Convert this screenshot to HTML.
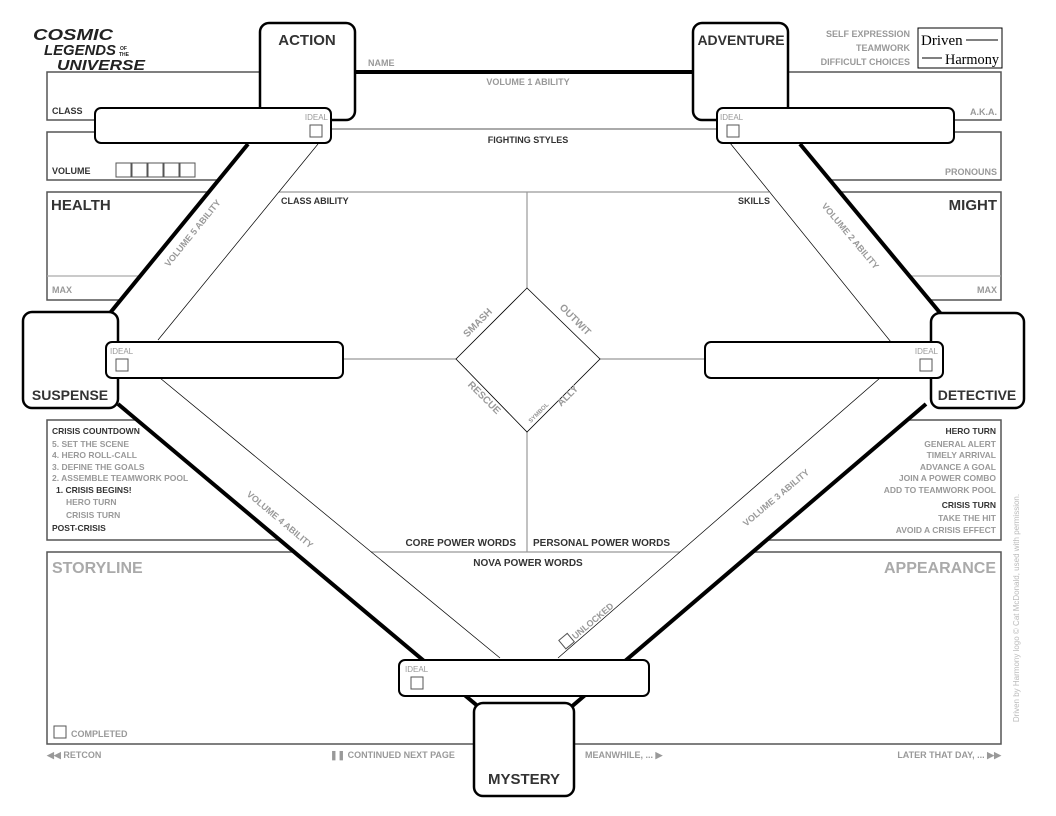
<!DOCTYPE html>
<html><head><meta charset="utf-8"><style>
html,body{margin:0;padding:0;background:#fff;}
svg{display:block;}
text{font-family:"Liberation Sans",sans-serif;font-weight:bold;}
.d{fill:#333;}
.g{fill:#999;}
.box{fill:none;stroke:#555;stroke-width:1.5;}
.node{fill:#fff;stroke:#000;stroke-width:2.5;}
.bar{fill:#fff;stroke:#000;stroke-width:2;}
.cb{fill:#fff;stroke:#555;stroke-width:1;}
.in{stroke:#999;stroke-width:1.2;fill:none;}
</style></head><body>
<svg width="1056" height="816" viewBox="0 0 1056 816" xmlns="http://www.w3.org/2000/svg">
<text x="33" y="40" font-size="16" font-style="italic" fill="#222" textLength="80" lengthAdjust="spacingAndGlyphs">COSMIC</text>
<text x="44" y="55" font-size="15" font-style="italic" fill="#222" textLength="72" lengthAdjust="spacingAndGlyphs">LEGENDS</text>
<text x="120" y="50" font-size="5" fill="#222">OF</text>
<text x="119" y="56" font-size="5" fill="#222">THE</text>
<text x="57" y="70" font-size="15" font-style="italic" fill="#222" textLength="88" lengthAdjust="spacingAndGlyphs">UNIVERSE</text>

<rect x="47" y="72" width="220" height="48" class="box"/>
<path d="M219,180 L47,180 L47,132 L100,132" class="box"/>
<path d="M209,192 L47,192 L47,300 L121,300" class="box"/>
<line x1="47" y1="276" x2="140" y2="276" stroke="#aaa" stroke-width="1.2"/>
<path d="M137,420 L47,420 L47,540 L279,540" class="box"/>
<path d="M294,552 L47,552 L47,744 L474,744" class="box"/>
<rect x="780" y="72" width="221" height="48" class="box"/>
<path d="M830,180 L1001,180 L1001,132 L950,132" class="box"/>
<path d="M840,192 L1001,192 L1001,300 L929,300" class="box"/>
<line x1="909" y1="276" x2="1001" y2="276" stroke="#aaa" stroke-width="1.2"/>
<path d="M907,420 L1001,420 L1001,540 L767,540" class="box"/>
<path d="M753,552 L1001,552 L1001,744 L574,744" class="box"/>

<line x1="331" y1="129" x2="720" y2="129" stroke="#555" stroke-width="1"/>
<line x1="279" y1="192" x2="769" y2="192" class="in"/>
<line x1="527" y1="192" x2="527" y2="288" class="in"/>
<line x1="527" y1="432" x2="527" y2="552" class="in"/>
<line x1="343" y1="359" x2="456" y2="359" class="in"/>
<line x1="600" y1="359" x2="705" y2="359" class="in"/>
<line x1="371" y1="552" x2="680" y2="552" class="in"/>
<polygon points="527,288 600,359 527,432 456,359" fill="none" stroke="#000" stroke-width="0.8"/>
<g stroke="#000" stroke-width="0.7">
<line x1="318" y1="144" x2="158" y2="340"/>
<line x1="730" y1="143" x2="891" y2="342"/>
<line x1="160" y1="378" x2="500" y2="658"/>
<line x1="880" y1="378" x2="558" y2="658"/>
</g>
<g stroke="#000" stroke-width="4">
<line x1="355" y1="72" x2="693" y2="72"/>
<line x1="248" y1="144" x2="110" y2="313"/>
<line x1="800" y1="144" x2="941" y2="314"/>
<line x1="118" y1="404" x2="480" y2="708"/>
<line x1="926" y1="404" x2="570" y2="708"/>
</g>

<rect x="260" y="23" width="95" height="97" rx="9" class="node"/>
<rect x="693" y="23" width="95" height="97" rx="9" class="node"/>
<rect x="23" y="312" width="95" height="96" rx="9" class="node"/>
<rect x="931" y="313" width="93" height="95" rx="9" class="node"/>
<rect x="474" y="703" width="100" height="93" rx="9" class="node"/>
<text x="307" y="45" font-size="15" text-anchor="middle" class="d">ACTION</text>
<text x="741" y="45" font-size="14" text-anchor="middle" class="d">ADVENTURE</text>
<text x="70" y="400" font-size="14" text-anchor="middle" class="d">SUSPENSE</text>
<text x="977" y="400" font-size="14" text-anchor="middle" class="d">DETECTIVE</text>
<text x="524" y="784" font-size="15" text-anchor="middle" class="d">MYSTERY</text>

<rect x="95" y="108" width="236" height="35" rx="6" class="bar"/>
<text x="328" y="120" font-size="8" text-anchor="end" class="g" style="font-weight:normal">IDEAL</text>
<rect x="310" y="125" width="12" height="12" class="cb"/>
<rect x="717" y="108" width="237" height="35" rx="6" class="bar"/>
<text x="720" y="120" font-size="8" class="g" style="font-weight:normal">IDEAL</text>
<rect x="727" y="125" width="12" height="12" class="cb"/>
<rect x="106" y="342" width="237" height="36" rx="6" class="bar"/>
<text x="110" y="354" font-size="8" class="g" style="font-weight:normal">IDEAL</text>
<rect x="116" y="359" width="12" height="12" class="cb"/>
<rect x="705" y="342" width="238" height="36" rx="6" class="bar"/>
<text x="938" y="354" font-size="8" text-anchor="end" class="g" style="font-weight:normal">IDEAL</text>
<rect x="920" y="359" width="12" height="12" class="cb"/>
<rect x="399" y="660" width="250" height="36" rx="6" class="bar"/>
<text x="405" y="672" font-size="8" class="g" style="font-weight:normal">IDEAL</text>
<rect x="411" y="677" width="12" height="12" class="cb"/>

<text x="368" y="66" font-size="9" class="g">NAME</text>
<text x="528" y="85" font-size="9" text-anchor="middle" class="g">VOLUME 1 ABILITY</text>
<text x="528" y="143" font-size="9" text-anchor="middle" class="d">FIGHTING STYLES</text>
<text x="52" y="114" font-size="9" class="d">CLASS</text>
<text x="52" y="174" font-size="9" class="d">VOLUME</text>
<g class="cb"><rect x="116" y="163" width="15" height="14"/><rect x="132" y="163" width="15" height="14"/><rect x="148" y="163" width="15" height="14"/><rect x="164" y="163" width="15" height="14"/><rect x="180" y="163" width="15" height="14"/></g>
<text x="51" y="210" font-size="15" class="d">HEALTH</text>
<text x="52" y="293" font-size="9" class="g">MAX</text>
<text x="281" y="204" font-size="9" class="d">CLASS ABILITY</text>
<text x="770" y="204" font-size="9" text-anchor="end" class="d">SKILLS</text>
<text x="910" y="37" font-size="9" text-anchor="end" class="g">SELF EXPRESSION</text>
<text x="910" y="51" font-size="9" text-anchor="end" class="g">TEAMWORK</text>
<text x="910" y="65" font-size="9" text-anchor="end" class="g">DIFFICULT CHOICES</text>
<rect x="918" y="28" width="84" height="40" fill="#fff" stroke="#000" stroke-width="1"/>
<text x="921" y="45" font-size="15" fill="#000" style="font-family:'Liberation Serif',serif;font-weight:normal">Driven</text>
<line x1="966" y1="40" x2="998" y2="40" stroke="#000"/>
<text x="945" y="64" font-size="15" fill="#000" style="font-family:'Liberation Serif',serif;font-weight:normal" textLength="54" lengthAdjust="spacingAndGlyphs">Harmony</text>
<line x1="922" y1="58" x2="942" y2="58" stroke="#000"/>
<text x="997" y="115" font-size="9" text-anchor="end" class="g">A.K.A.</text>
<text x="997" y="175" font-size="9" text-anchor="end" class="g">PRONOUNS</text>
<text x="997" y="210" font-size="15" text-anchor="end" class="d">MIGHT</text>
<text x="997" y="293" font-size="9" text-anchor="end" class="g">MAX</text>

<text x="195" y="235" font-size="9" text-anchor="middle" class="g" transform="rotate(-51 195 235)">VOLUME 5 ABILITY</text>
<text x="848" y="238" font-size="9" text-anchor="middle" class="g" transform="rotate(50 848 238)">VOLUME 2 ABILITY</text>
<text x="278" y="522" font-size="9" text-anchor="middle" class="g" transform="rotate(40 278 522)">VOLUME 4 ABILITY</text>
<text x="778" y="500" font-size="9" text-anchor="middle" class="g" transform="rotate(-40 778 500)">VOLUME 3 ABILITY</text>
<g transform="rotate(-40 585 625)"><rect x="555" y="620" width="11" height="11" class="cb"/><text x="568" y="630" font-size="9" class="g">UNLOCKED</text></g>

<text x="480" y="325" font-size="10" text-anchor="middle" class="g" transform="rotate(-45 480 325)">SMASH</text>
<text x="573" y="322" font-size="10" text-anchor="middle" class="g" transform="rotate(45 573 322)">OUTWIT</text>
<text x="482" y="400" font-size="10" text-anchor="middle" class="g" transform="rotate(45 482 400)">RESCUE</text>
<text x="570" y="398" font-size="10" text-anchor="middle" class="g" transform="rotate(-45 570 398)">ALLY</text>
<text x="540" y="414" font-size="6" text-anchor="middle" class="g" transform="rotate(-45 540 414)">SYMBOL</text>

<g font-size="8.5">
<text x="52" y="434" class="d">CRISIS COUNTDOWN</text>
<text x="52" y="447" class="g">5. SET THE SCENE</text>
<text x="52" y="458" class="g">4. HERO ROLL-CALL</text>
<text x="52" y="470" class="g">3. DEFINE THE GOALS</text>
<text x="52" y="481" class="g">2. ASSEMBLE TEAMWORK POOL</text>
<text x="56" y="493" class="d">1. CRISIS BEGINS!</text>
<text x="66" y="505" class="g">HERO TURN</text>
<text x="66" y="518" class="g">CRISIS TURN</text>
<text x="52" y="531" class="d">POST-CRISIS</text>
</g>
<g font-size="8.5" text-anchor="end">
<text x="996" y="434" class="d">HERO TURN</text>
<text x="996" y="447" class="g">GENERAL ALERT</text>
<text x="996" y="458" class="g">TIMELY ARRIVAL</text>
<text x="996" y="470" class="g">ADVANCE A GOAL</text>
<text x="996" y="481" class="g">JOIN A POWER COMBO</text>
<text x="996" y="493" class="g">ADD TO TEAMWORK POOL</text>
<text x="996" y="508" class="d">CRISIS TURN</text>
<text x="996" y="521" class="g">TAKE THE HIT</text>
<text x="996" y="533" class="g">AVOID A CRISIS EFFECT</text>
</g>
<text x="516" y="546" font-size="10" text-anchor="end" class="d">CORE POWER WORDS</text>
<text x="533" y="546" font-size="10" class="d">PERSONAL POWER WORDS</text>
<text x="528" y="566" font-size="10" text-anchor="middle" class="d">NOVA POWER WORDS</text>
<text x="52" y="573" font-size="16" fill="#aaa">STORYLINE</text>
<text x="996" y="573" font-size="16" text-anchor="end" fill="#aaa">APPEARANCE</text>
<rect x="54" y="726" width="12" height="12" class="cb"/>
<text x="71" y="737" font-size="9" class="g">COMPLETED</text>
<text x="47" y="758" font-size="9" class="g">◀◀ RETCON</text>
<text x="330" y="758" font-size="9" class="g">❚❚ CONTINUED NEXT PAGE</text>
<text x="585" y="758" font-size="9" class="g">MEANWHILE, ... ▶</text>
<text x="1001" y="758" font-size="9" text-anchor="end" class="g">LATER THAT DAY, ... ▶▶</text>
<text x="1019" y="608" font-size="8" text-anchor="middle" fill="#bbb" style="font-weight:normal" transform="rotate(-90 1019 608)">Driven by Harmony logo © Cat McDonald, used with permission.</text>
</svg>
</body></html>
